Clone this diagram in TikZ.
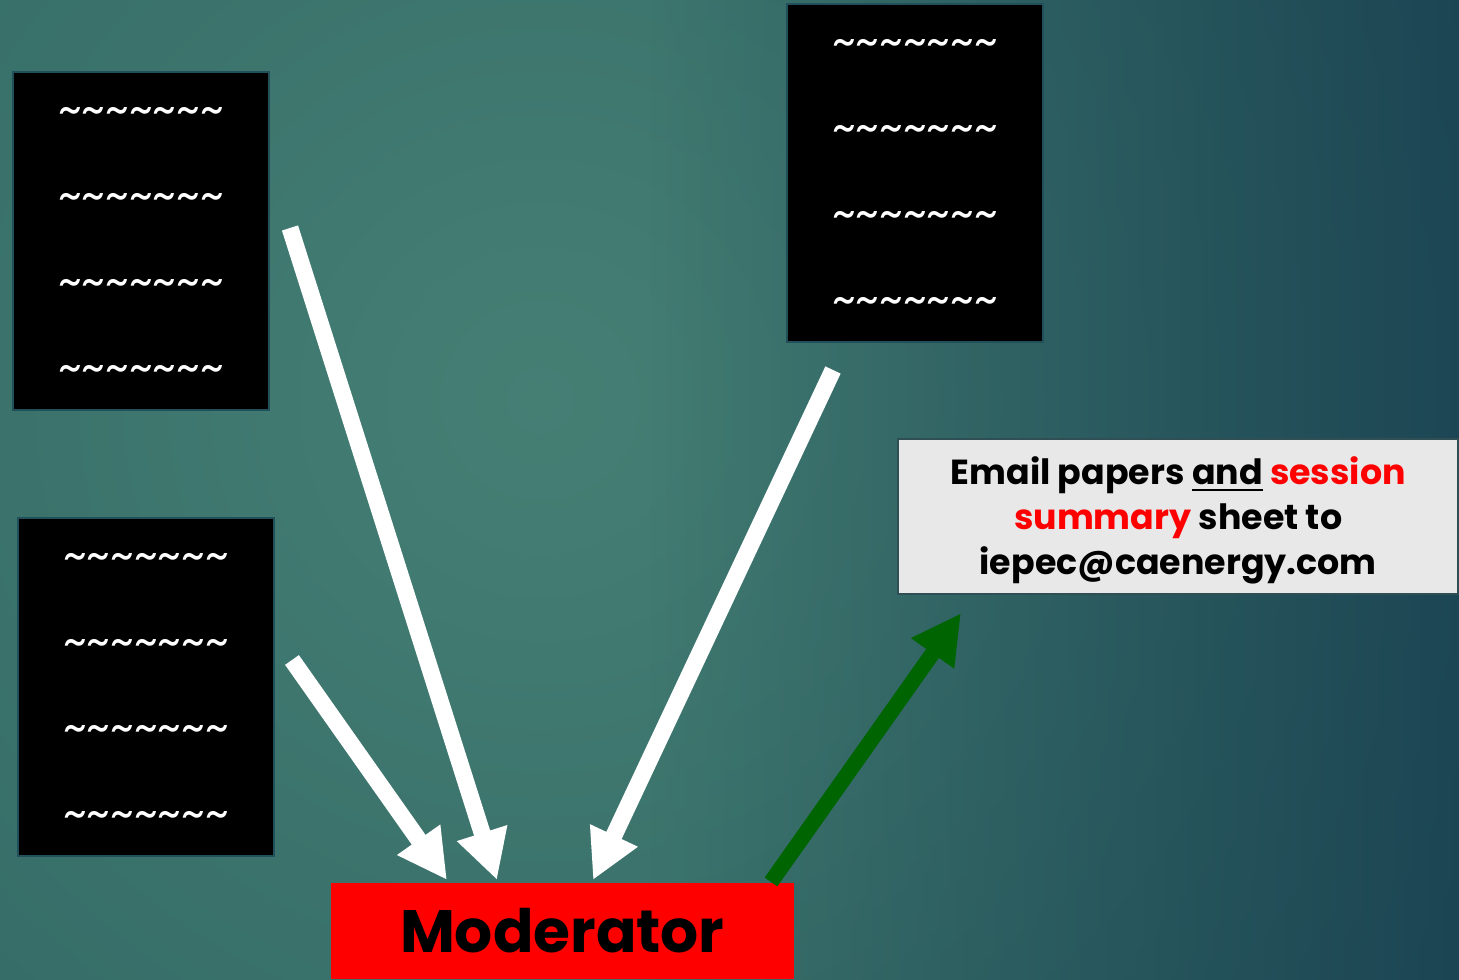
\documentclass[tikz,border=0pt]{standalone}
\usepackage{fontspec}
\setmainfont{Poppins}
\usetikzlibrary{arrows.meta,calc,fadings}
\definecolor{bgin}{HTML}{457F74}
\definecolor{bgout}{HTML}{235659}
\definecolor{bgblue}{HTML}{10334A}
\definecolor{paperedge}{HTML}{22505A}
\definecolor{mailfill}{HTML}{E8E8E8}
\definecolor{mailedge}{HTML}{2F4F55}
\definecolor{sendgreen}{HTML}{006400}
\newcommand{\wavyline}{\textasciitilde\textasciitilde\textasciitilde\textasciitilde\textasciitilde\textasciitilde\textasciitilde}

\tikzset{
  paper/.style={draw=paperedge, line width=0.6pt, fill=black, anchor=north west,
    minimum width=2.56cm, minimum height=3.38cm, inner sep=0pt},
  wave/.style={text=white, font=\fontsize{13}{13}\selectfont, inner sep=0pt},
  mailtext/.style={align=center, inner sep=0pt, font=\fontsize{9.9}{12.8}\selectfont\bfseries},
  flow/.style={draw=white, line width=4.8pt, -{Triangle[width=14pt,length=14pt]}},
  sendflow/.style={draw=sendgreen, line width=4.4pt, -{Triangle[width=14pt,length=14pt]}}
}

\begin{document}
\begin{tikzpicture}[x=0.01cm, y=-0.01cm]
\useasboundingbox (0,0) rectangle (1459,980);
\begin{scope}
\clip (0,0) rectangle (1459,980);
\shade[inner color=bgin, outer color=bgout] (540,400) circle (1800);
\fill[bgblue, fill opacity=0.8, path fading=west] (650,-300) rectangle (1650,1100);
\end{scope}

% papers
\node[paper] (paperA) at (12,71) {};
\node[paper] (paperB) at (17,517) {};
\node[paper] (paperC) at (786,3) {};
\foreach \p in {paperA,paperB,paperC}
  \foreach \i in {0,...,3}
    \node[wave] (\p-\i) at ($(\p.north)+(0,{46+86*\i})$) {\wavyline};

% moderator and email
\node[fill=red, anchor=north west, minimum width=4.63cm, minimum height=0.96cm, inner sep=0pt,
  font=\fontsize{17}{18}\selectfont\bfseries] (mod) at (330,882) {Moderator};
\node[draw=mailedge, line width=0.6pt, fill=mailfill, anchor=north west, minimum width=5.6cm,
  minimum height=1.55cm, inner sep=0pt] (email) at (897,438) {};
\node[mailtext] (emailtext) at ($(email.center)+(0,4)$)
  {Email papers \underline{and} \textcolor{red}{session}\\
   \textcolor{red}{summary} sheet to\\
   iepec@caenergy.com};

\coordinate (s1) at (290,228);
\coordinate (s2) at (292,660);
\coordinate (s3) at (833,370);
\draw[flow] (s1) -- ($(mod.north west)+(167,-2)$);
\draw[flow] (s2) -- ($(mod.north west)+(117,-2)$);
\draw[flow] (s3) -- ($(mod.north west)+(263,-2)$);
\draw[sendflow] ($(mod.north west)+(441,0)$) -- ($(email.south west)+(64,18)$);
\end{tikzpicture}
\end{document}
